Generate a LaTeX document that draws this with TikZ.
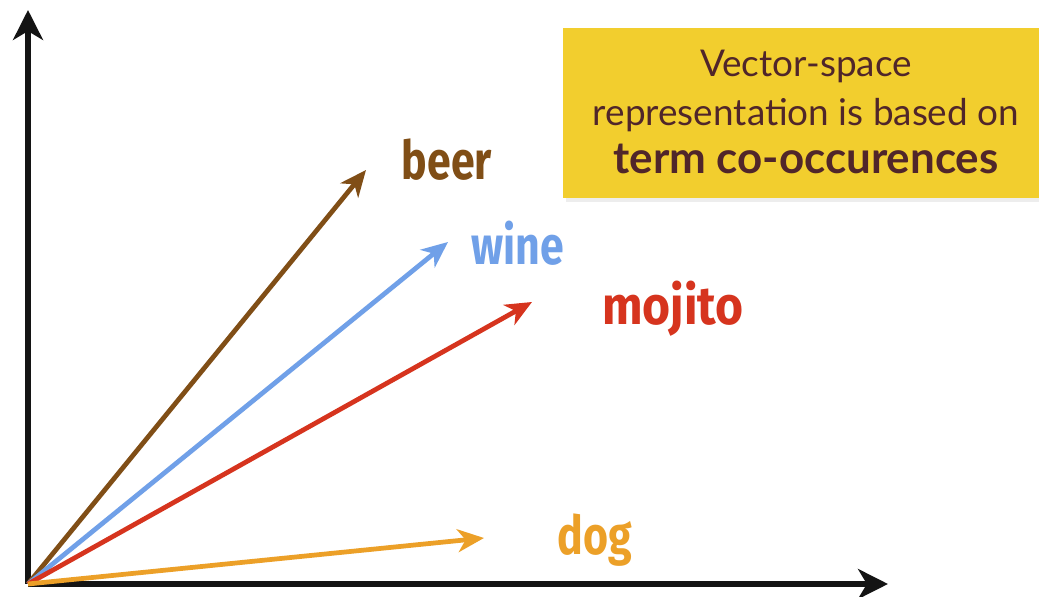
\documentclass[tikz,border=0pt]{standalone}
\usepackage{fontspec}
\setmainfont{Lato}
\newfontfamily\condfont[FakeStretch=0.8]{Fira Sans}
\usetikzlibrary{arrows.meta}

\definecolor{beercol}{RGB}{128,78,22}
\definecolor{winecol}{RGB}{112,160,232}
\definecolor{mojitocol}{RGB}{214,52,30}
\definecolor{dogcol}{RGB}{236,160,40}
\definecolor{notecol}{RGB}{242,206,46}
\definecolor{notetext}{RGB}{80,38,42}
\definecolor{axiscol}{RGB}{20,20,20}

\tikzset{
  axis/.style={line width=2.9pt, draw=axiscol,
    -{Stealth[length=17pt,width=17pt,inset=5pt]}},
  vec/.style={line width=2.7pt,
    -{Stealth[length=15pt,width=13pt,inset=4.5pt]}},
  word/.style={font=\condfont\bfseries\fontsize{30.5}{34}\selectfont, inner sep=0pt},
  note/.style={font=\fontsize{21}{27.5}\selectfont, text=notetext, align=center, inner sep=0pt}
}

\begin{document}
\begin{tikzpicture}[x=0.02cm, y=-0.02cm]
  \useasboundingbox (0,0) rectangle (1039,597);
  \fill[white] (0,0) rectangle (1039,597);

  % note box
  \fill[black!7] (566,32) rectangle (1045,202);
  \fill[notecol] (563,28) rectangle (1045,198);
  \node[note] (note) at (806,112)
    {Vector-space\\representation is based on\\{\bfseries\fontsize{25}{27.5}\selectfont term co-occurences}};

  % axes
  \coordinate (O) at (28,584);
  \coordinate (ytop) at (28,10);
  \coordinate (xend) at (888,584);
  \draw[axis] (O) -- (ytop);
  \draw[axis] (O) -- (xend);

  % word vectors
  \coordinate (beer) at (366,170);
  \coordinate (wine) at (448,242);
  \coordinate (mojito) at (532,302);
  \coordinate (dog) at (484,538);

  \draw[vec, beercol] (O) -- (beer);
  \draw[vec, winecol] (O) -- (wine);
  \draw[vec, mojitocol] (O) -- (mojito);
  \draw[vec, dogcol] (O) -- (dog);

  \node[word, text=beercol] (lbeer) at (447,160) {beer};
  \node[word, text=winecol] (lwine) at (518,243) {wine};
  \node[word, text=mojitocol, xscale=1.12] (lmojito) at (673,309) {mojito};
  \node[word, text=dogcol] (ldog) at (595,540) {dog};
\end{tikzpicture}
\end{document}
